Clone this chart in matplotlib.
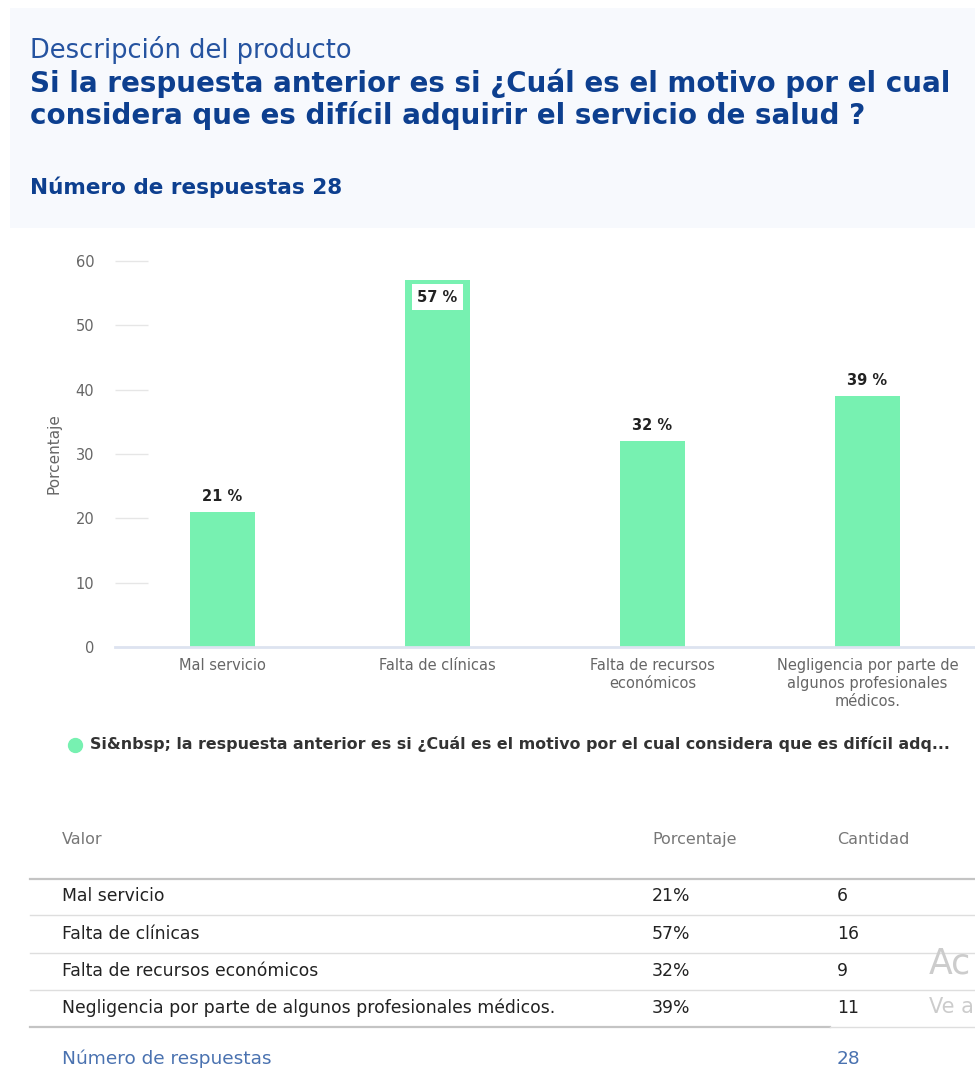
import matplotlib
matplotlib.use('Agg')
import matplotlib.pyplot as plt
from matplotlib.patches import Rectangle
from matplotlib.lines import Line2D

plt.rcParams['font.family'] = ['DejaVu Sans']

# data
categories = ['Mal servicio', 'Falta de clínicas', 'Falta de recursos\neconómicos',
              'Negligencia por parte de\nalgunos profesionales\nmédicos.']
table_labels = ['Mal servicio', 'Falta de clínicas', 'Falta de recursos económicos',
                'Negligencia por parte de algunos profesionales médicos.']
percentages = [21, 57, 32, 39]
counts = [6, 16, 9, 11]
total = 28
yticks = [0, 10, 20, 30, 40, 50, 60]

W, H = 975, 1072
fig = plt.figure(figsize=(W / 100, H / 100), dpi=100)
fig.patch.set_facecolor('white')

def fx(x):
    return x / W

def fy(y):
    return 1 - y / H

def ftext(x, y, s, **kw):
    kw.setdefault('va', 'center_baseline')
    fig.text(fx(x), fy(y - 2), s, **kw)

# header box
fig.patches.append(Rectangle((fx(10), fy(228)), fx(975) - fx(10), fy(8) - fy(228),
                             transform=fig.transFigure, facecolor='#f7f9fd', edgecolor='none', zorder=0))
ftext(30, 49, 'Descripción del producto', fontsize=18.5, color='#2553a0')
ftext(30, 82, 'Si la respuesta anterior es si ¿Cuál es el motivo por el cual', fontsize=20,
      fontweight='bold', color='#0d3f8f')
ftext(30, 114, 'considera que es difícil adquirir el servicio de salud ?', fontsize=20,
      fontweight='bold', color='#0d3f8f')
ftext(30, 187, 'Número de respuestas ' + str(total), fontsize=15.5, fontweight='bold', color='#0d3f8f')

# bar chart
ax = fig.add_axes([fx(115), fy(647), fx(975) - fx(115), fy(261) - fy(647)])
x = list(range(len(categories)))
ax.bar(x, percentages, width=0.3, color='#77f1b1', edgecolor='none', zorder=2)
ax.set_xlim(-0.5, len(categories) - 0.5)
ax.set_ylim(0, 60)
ax.set_yticks(yticks)
ax.set_xticks(x)
ax.set_xticklabels(categories, fontsize=10.5, color='#666666', linespacing=1.25)
ax.tick_params(axis='y', direction='in', length=24, width=1, color='#e6e6e6',
               labelsize=10.5, labelcolor='#666666', pad=15)
ax.tick_params(axis='x', length=0, pad=8)
for s in ['top', 'right', 'left']:
    ax.spines[s].set_visible(False)
ax.spines['bottom'].set_color('#dde3f0')
ax.spines['bottom'].set_linewidth(2)
ax.set_ylabel('Porcentaje', fontsize=11, color='#666666', labelpad=10)

for xi, v in zip(x, percentages):
    if v > 52:
        ax.text(xi, v - 2.6, f'{v} %', ha='center', va='center', fontsize=10.5, fontweight='bold',
                color='#222222', zorder=3,
                bbox=dict(boxstyle='square,pad=0.4', facecolor='white', edgecolor='none'))
    else:
        ax.text(xi, v + 2.4, f'{v} %', ha='center', va='center', fontsize=10.5, fontweight='bold',
                color='#222222', zorder=3)

# legend
fig.add_artist(Line2D([fx(75)], [fy(745)], marker='o', markersize=10, color='#77f1b1',
                      transform=fig.transFigure, linestyle='none'))
ftext(90, 745, 'Si&nbsp; la respuesta anterior es si ¿Cuál es el motivo por el cual considera que es difícil adq...',
      fontsize=11.4, fontweight='bold', color='#333333')

# table
col_x = [62, 652, 837]
ftext(col_x[0], 840, 'Valor', fontsize=11.5, color='#777777')
ftext(col_x[1], 840, 'Porcentaje', fontsize=11.5, color='#777777')
ftext(col_x[2], 840, 'Cantidad', fontsize=11.5, color='#777777')

def hline(y, color, lw, x0=30, x1=975):
    fig.add_artist(Line2D([fx(x0), fx(x1)], [fy(y), fy(y)], color=color, linewidth=lw,
                          transform=fig.transFigure))

hline(879, '#c4c4c4', 1.6)
row_y = [896, 934, 971, 1008]
for i, (lab, p, c) in enumerate(zip(table_labels, percentages, counts)):
    ftext(col_x[0], row_y[i], lab, fontsize=12.4, color='#222222')
    ftext(col_x[1], row_y[i], f'{p}%', fontsize=12.4, color='#222222')
    ftext(col_x[2], row_y[i], str(c), fontsize=12.4, color='#222222')
    if i < len(table_labels) - 1:
        hline(row_y[i] + 19, '#dedede', 1.0)
hline(1027, '#c4c4c4', 1.6, x1=830)
hline(1027, '#dedede', 1.0, x0=830)

ftext(col_x[0], 1059, 'Número de respuestas', fontsize=13.3, color='#4a72b0')
ftext(col_x[2], 1059, str(total), fontsize=13.3, color='#4a72b0')

# watermark remnants at the right edge
ftext(929, 962, 'Ac', fontsize=25, color='#cccccc')
ftext(929, 1007, 'Ve a', fontsize=15, color='#cccccc')

fig.savefig('out.png', dpi=100, facecolor='white')
